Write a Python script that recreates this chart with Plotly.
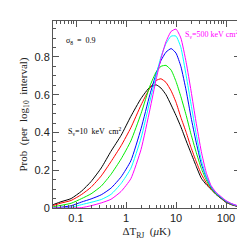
import plotly.graph_objects as go

# Temperature decrement Delta T_RJ (muK)
dT = [0.035, 0.05, 0.08, 0.13, 0.2, 0.32, 0.5, 0.8, 1.25, 2, 3, 4, 5, 6.3, 8, 10,
      12.5, 16, 20, 25, 32, 40, 50, 63, 80, 100, 130, 190]

p_10 = [0.018, 0.033, 0.05, 0.09, 0.14, 0.212, 0.30, 0.385, 0.485, 0.58, 0.64, 0.652,
        0.635, 0.60, 0.545, 0.49, 0.43, 0.355, 0.29, 0.225, 0.158, 0.125, 0.10, 0.072,
        0.05, 0.03, 0.017, 0.005]
p_20 = [0.013, 0.026, 0.04, 0.072, 0.11, 0.17, 0.245, 0.33, 0.425, 0.545, 0.635, 0.675,
        0.684, 0.665, 0.62, 0.56, 0.48, 0.40, 0.32, 0.25, 0.18, 0.135, 0.10, 0.074,
        0.052, 0.032, 0.018, 0.005]
p_50 = [0.007, 0.014, 0.025, 0.05, 0.075, 0.116, 0.178, 0.26, 0.355, 0.50, 0.645, 0.72,
        0.75, 0.755, 0.73, 0.67, 0.59, 0.49, 0.39, 0.30, 0.21, 0.15, 0.105, 0.075,
        0.053, 0.034, 0.019, 0.005]
p_100 = [0.0, 0.004, 0.012, 0.032, 0.048, 0.07, 0.105, 0.165, 0.25, 0.42, 0.60, 0.71,
         0.78, 0.825, 0.844, 0.82, 0.75, 0.62, 0.48, 0.355, 0.235, 0.165, 0.112, 0.078,
         0.055, 0.036, 0.021, 0.006]
p_200 = [0.0, 0.0, 0.004, 0.018, 0.03, 0.045, 0.072, 0.13, 0.21, 0.37, 0.565, 0.70,
         0.80, 0.87, 0.91, 0.91, 0.85, 0.70, 0.55, 0.40, 0.255, 0.17, 0.115, 0.08,
         0.057, 0.037, 0.022, 0.007]
p_500 = [0.0, 0.0, 0.0, 0.002, 0.012, 0.027, 0.046, 0.088, 0.155, 0.31, 0.52, 0.68,
         0.79, 0.88, 0.935, 0.947, 0.90, 0.77, 0.62, 0.46, 0.30, 0.19, 0.12, 0.083,
         0.06, 0.039, 0.023, 0.008]

series = [p_10, p_20, p_50, p_100, p_200, p_500]
colors = ["#000000", "#ff0000", "#00ee00", "#0000ff", "#00ffff", "#ff00ff"]

fig = go.Figure()
for ys, c in zip(series, colors):
    fig.add_trace(go.Scatter(x=dT, y=ys, mode="lines",
                             line=dict(color=c, width=1, shape="spline", smoothing=0.5),
                             showlegend=False, hoverinfo="skip"))

minor_x = [m * 10 ** e for e in range(-2, 3) for m in range(2, 10)]

fig.update_layout(
    width=245, height=245,
    margin=dict(l=45, r=13, t=13, b=45),
    paper_bgcolor="white", plot_bgcolor="white",
    font=dict(family="Liberation Serif", size=11, color="#222"),
)
fig.update_xaxes(
    type="log", range=[-1.46, 2.28],
    tickvals=[0.1, 1, 10, 100], ticktext=["0.1", "1", "10", "100"],
    ticks="inside", ticklen=6, tickcolor="#555", tickwidth=1,
    minor=dict(tickvals=minor_x, ticks="inside", ticklen=3, tickcolor="#555", showgrid=False),
    showline=True, linecolor="#555", linewidth=1, mirror="ticks",
    showgrid=False, zeroline=False,
    tickfont=dict(family="Liberation Sans", size=11, color="#222"),
    title=dict(text="ΔT<sub>RJ</sub>  (<i>μ</i>K)", standoff=4,
               font=dict(family="Liberation Serif", size=11)),
)
fig.update_yaxes(
    range=[0, 0.99],
    tickvals=[0, 0.2, 0.4, 0.6, 0.8], ticktext=["0", "0.2", "0.4", "0.6", "0.8"],
    ticks="inside", ticklen=6, tickcolor="#555", tickwidth=1,
    minor=dict(dtick=0.05, ticks="inside", ticklen=3, tickcolor="#555", showgrid=False),
    showline=True, linecolor="#555", linewidth=1, mirror="ticks",
    showgrid=False, zeroline=False,
    tickfont=dict(family="Liberation Sans", size=11, color="#222"),
    title=dict(text="Prob  (per  log<sub>10</sub>  interval)", standoff=4,
               font=dict(family="Liberation Serif", size=11)),
)

fig.add_annotation(x=0.06, y=0.93, xref="paper", yref="paper", xanchor="left",
                   text="σ<sub>8</sub>  =  0.9", showarrow=False,
                   font=dict(family="Liberation Serif", size=8, color="#000"))
fig.add_annotation(x=-0.64, y=0.405, xref="x", yref="y",
                   text="S<sub>ν</sub>=10  keV  cm<sup>2</sup>", showarrow=False,
                   font=dict(family="Liberation Serif", size=8, color="#000"))
fig.add_annotation(x=1.0, y=0.918, xref="paper", yref="y", xanchor="right",
                   text="S<sub>ν</sub>=500 keV cm<sup>2</sup>", showarrow=False,
                   font=dict(family="Liberation Serif", size=8, color="#ff00ff"))

fig.write_html("out.html")
